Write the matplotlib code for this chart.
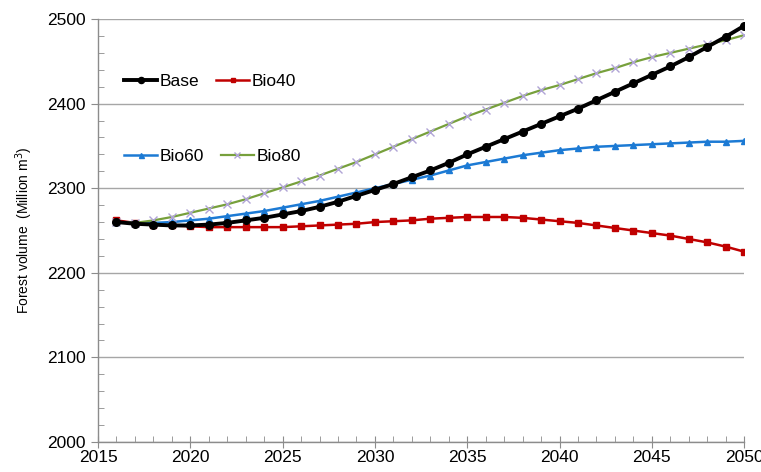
import numpy as np
import matplotlib.pyplot as plt
from matplotlib.ticker import MultipleLocator

plt.rcParams['font.family'] = ['Liberation Sans', 'DejaVu Sans']

years = list(range(2016, 2051))

base = [2260, 2258, 2257, 2256, 2256, 2257, 2259, 2262, 2265, 2269,
        2273, 2278, 2284, 2291, 2298, 2305, 2313, 2321, 2330, 2340,
        2349, 2358, 2367, 2376, 2385, 2394, 2404, 2414, 2424, 2434,
        2444, 2455, 2467, 2479, 2492]

bio40 = [2262, 2259, 2257, 2256, 2255, 2254, 2254, 2254, 2254, 2254,
         2255, 2256, 2257, 2258, 2260, 2261, 2262, 2264, 2265, 2266,
         2266, 2266, 2265, 2263, 2261, 2259, 2256, 2253, 2250, 2247,
         2244, 2240, 2236, 2231, 2225]

bio60 = [2260, 2259, 2259, 2260, 2262, 2264, 2267, 2270, 2273, 2277,
         2281, 2285, 2290, 2295, 2300, 2305, 2310, 2315, 2321, 2327,
         2331, 2335, 2339, 2342, 2345, 2347, 2349, 2350, 2351, 2352,
         2353, 2354, 2355, 2355, 2356]

bio80 = [2260, 2259, 2262, 2266, 2271, 2276, 2281, 2287, 2294, 2301,
         2308, 2315, 2323, 2331, 2340, 2349, 2358, 2367, 2376, 2385,
         2393, 2401, 2409, 2416, 2422, 2429, 2436, 2442, 2449, 2455,
         2460, 2465, 2470, 2475, 2481]

fig = plt.figure(figsize=(7.61, 4.72), dpi=100)
ax = fig.add_axes([0.1288, 0.0636, 0.849, 0.896])

l_base, = ax.plot(years, base, color='black', lw=2.8, marker='o', ms=5.5, label='Base', zorder=5)
l_40, = ax.plot(years, bio40, color='#c00000', lw=1.8, marker='s', ms=4.2, label='Bio40', zorder=3)
l_60, = ax.plot(years, bio60, color='#1c7ad4', lw=1.8, marker='^', ms=4.5, label='Bio60', zorder=4)
l_80, = ax.plot(years, bio80, color='#77a03c', lw=1.6, marker='x', ms=6, mew=1.0,
                mec='#b0a4d6', label='Bio80', zorder=4)

ax.set_xlim(2015, 2050)
ax.set_ylim(2000, 2500)
ax.xaxis.set_major_locator(MultipleLocator(5))
ax.xaxis.set_minor_locator(MultipleLocator(1))
ax.yaxis.set_major_locator(MultipleLocator(100))
ax.yaxis.set_minor_locator(MultipleLocator(20))

ax.grid(axis='y', which='major', color='#a6a6a6', lw=1.0)
ax.set_axisbelow(True)

for s in ['top', 'right']:
    ax.spines[s].set_visible(False)
for s in ['left', 'bottom']:
    ax.spines[s].set_color('#8c8c8c')
    ax.spines[s].set_linewidth(1.0)

ax.tick_params(axis='y', which='major', direction='out', length=5, color='#8c8c8c', labelsize=12.5, pad=4)
ax.tick_params(axis='y', which='minor', direction='in', length=4, color='#8c8c8c')
ax.tick_params(axis='x', which='major', direction='inout', length=9, color='#8c8c8c', labelsize=12.5, pad=1)
ax.tick_params(axis='x', which='minor', direction='in', length=4, color='#8c8c8c')

ax.set_ylabel('Forest volume  (Million m$^3$)', fontsize=10)
ax.yaxis.set_label_coords(-0.098, 0.5)

leg_kw = dict(loc='upper left', ncol=2, frameon=False, fontsize=12.5, handlelength=1.9,
              handletextpad=0.15, columnspacing=0.95, markerscale=0.8, borderaxespad=0)
leg1 = ax.legend(handles=[l_base, l_40], bbox_to_anchor=(0.03, 0.886), **leg_kw)
ax.add_artist(leg1)
ax.legend(handles=[l_60, l_80], bbox_to_anchor=(0.03, 0.709), **leg_kw)

fig.savefig('out.png', dpi=100)
